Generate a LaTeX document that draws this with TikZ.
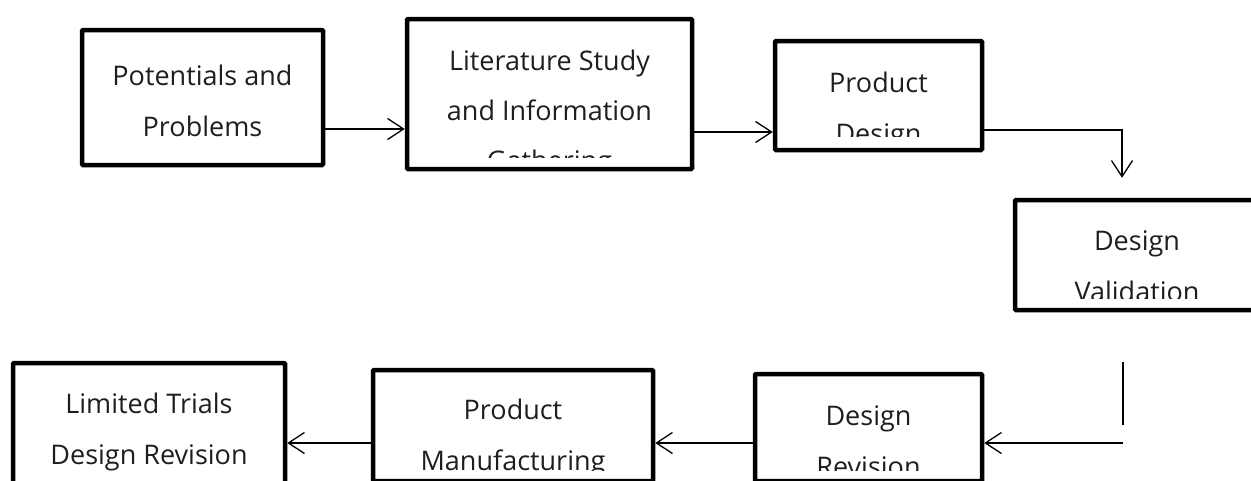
\documentclass[tikz,border=0pt]{standalone}
\usepackage{fontspec}
\setmainfont{Open Sans}
\usetikzlibrary{arrows.meta}
\definecolor{txt}{RGB}{30,30,30}
\begin{document}
\begin{tikzpicture}[x=1pt,y=-1pt,
  box/.style={draw, line width=4.5pt, inner sep=0pt, outer sep=0pt, rounded corners=1pt},
  lbl/.style={anchor=base, font=\fontsize{27}{30}\selectfont, text=txt, inner sep=0pt},
  conn/.style={line width=1.3pt},
  arr/.style={conn, -{Straight Barb[length=16pt,width=21pt,line width=1.3pt]}, shorten >=2.25pt}]
\useasboundingbox (0,0) rectangle (1251,480);
\clip (0,0) rectangle (1251,480);

% boxes
\node[box, minimum width=241pt, minimum height=135pt] (b1) at (202.5,97.5) {};
\node[box, minimum width=285pt, minimum height=150pt] (b2) at (549.5,94) {};
\node[box, minimum width=207pt, minimum height=109pt] (b3) at (878.5,95.5) {};
\node[box, minimum width=244pt, minimum height=110pt] (b4) at (1137,255) {};
\node[box, minimum width=227pt, minimum height=107pt] (b5) at (868.5,427.5) {};
\node[box, minimum width=280pt, minimum height=111pt] (b6) at (513,425.5) {};
\node[box, minimum width=272pt, minimum height=127pt] (b7) at (149,426.5) {};

% texts
\node[lbl] (t1a) at (202.5,85) {Potentials and};
\node[lbl] (t1b) at (202.5,136) {Problems};
\begin{scope}
  \clip (0,0) rectangle (1251,157);
  \node[lbl] (t2a) at (549.5,70) {Literature Study};
  \node[lbl] (t2b) at (549.5,120) {and Information};
  \node[lbl] (t2c) at (549.5,170) {Gathering};
\end{scope}
\begin{scope}
  \clip (0,0) rectangle (1251,136);
  \node[lbl] (t3a) at (878.5,92) {Product};
  \node[lbl] (t3b) at (878.5,143) {Design};
\end{scope}
\begin{scope}
  \clip (0,150) rectangle (1251,298);
  \node[lbl] (t4a) at (1137,250) {Design};
  \node[lbl] (t4b) at (1137,301) {Validation};
\end{scope}
\begin{scope}
  \clip (700,320) rectangle (1000,470);
  \node[lbl] (t5a) at (868.5,425) {Design};
  \node[lbl] (t5b) at (868.5,476) {Revision};
\end{scope}
\begin{scope}
  \clip (300,320) rectangle (700,470);
  \node[lbl] (t6a) at (513,419) {Product};
  \node[lbl] (t6b) at (513,470) {Manufacturing};
\end{scope}
\node[lbl] (t7a) at (149,413) {Limited Trials};
\node[lbl] (t7b) at (149,464) {Design Revision};

% connector coordinates
\coordinate (p1) at (323,129);
\coordinate (p2) at (692,132);
\coordinate (p3) at (982,130);
\coordinate (c1) at (1122,180);
\coordinate (c2) at (1123,362);
\coordinate (c3) at (1123,425);
\coordinate (c4) at (1123,443);

% connectors
\draw[arr] (b1.east |- p1) -- (b2.west |- p1);
\draw[arr] (b2.east |- p2) -- (b3.west |- p2);
\draw[arr] (b3.east |- p3) -| (c1);
\draw[conn] (c2) -- (c3);
\draw[arr] (c4) -- (b5.east |- c4);
\draw[arr] (b5.west |- c4) -- (b6.east |- c4);
\draw[arr] (b6.west |- c4) -- (b7.east |- c4);
\end{tikzpicture}
\end{document}
